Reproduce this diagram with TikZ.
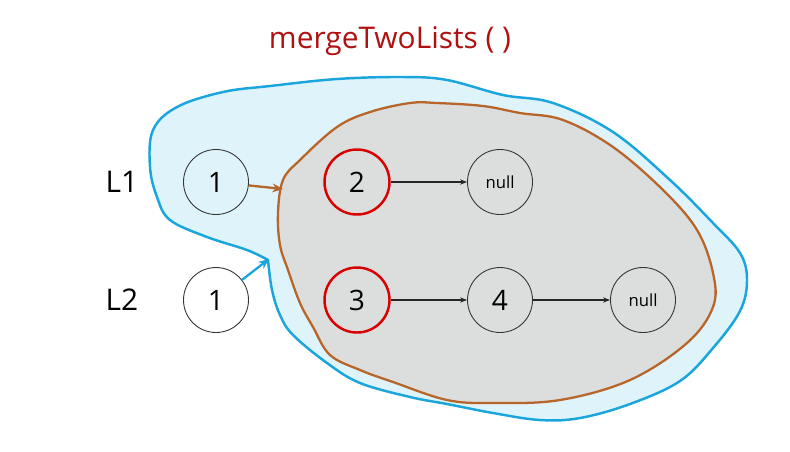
\documentclass[tikz,border=0pt]{standalone}
\usepackage{fontspec}
\setmainfont{Open Sans}
\usetikzlibrary{arrows.meta}

\definecolor{outerfill}{HTML}{DFF3FB}
\definecolor{outerline}{HTML}{1AA5DC}
\definecolor{innerfill}{HTML}{DCDEDD}
\definecolor{innerline}{HTML}{B8652A}
\definecolor{titlered}{HTML}{B01010}

\begin{document}
\begin{tikzpicture}[
  x=0.02cm, y=-0.02cm,
  listnode/.style={circle, draw=black!80, line width=0.5pt, minimum size=1.3cm, inner sep=0pt, font=\fontsize{16}{18}\selectfont},
  headnode/.style={listnode, draw=red!85!black, line width=1.4pt},
  nullnode/.style={listnode, font=\fontsize{9.5}{11}\selectfont},
  lbl/.style={font=\fontsize{17}{20}\selectfont},
  nextptr/.style={-{Stealth[length=4pt, width=3pt]}, line width=0.6pt, black!85},
]
\useasboundingbox (0,0) rectangle (790,451);

% ================================================================
% Recursion region (outer = call, inner = sub-call)
% ================================================================
\draw[outerline, fill=outerfill, line width=1.4pt]
  plot[smooth, tension=0.6] coordinates {
    (268,260) (272,290) (280,315) (293,335) (327,363) (360,383)
    (410,397) (447,404) (493,413) (540,420) (580,418) (630,404)
    (680,381) (713,348) (740,311) (747,280) (740,253) (713,223)
    (670,180) (613,132) (553,103) (503,95) (447,80) (403,77)
    (337,79) (270,86) (223,92) (177,107) (153,130) (150,167)
    (157,197) (170,220) (207,237) (247,250) (268,260)};

\draw[innerline, fill=innerfill, line width=1.3pt]
  plot[smooth cycle, tension=0.6] coordinates {
    (283,180) (300,160) (337,127) (370,112) (410,103) (437,103)
    (483,106) (520,113) (563,120) (613,147) (663,190) (697,230)
    (713,273) (713,307) (687,343) (630,380) (560,400) (493,403)
    (447,400) (393,382) (360,370) (330,355) (313,327) (300,303)
    (288,270) (280,245) (278,213)};

% ================================================================
% Title and list labels
% ================================================================
\node[font=\fontsize{17}{20}\selectfont, text=titlered] (title) at (390,41) {mergeTwoLists ( )};
\node[lbl] (L1) at (122,182) {L1};
\node[lbl] (L2) at (122,300) {L2};

% ================================================================
% List nodes
% ================================================================
\node[listnode] (a1) at (216,182) {1};
\node[listnode, fill=white] (b1) at (216,300) {1};
\node[headnode] (a2) at (357,182) {2};
\node[nullnode] (anull) at (500,182) {null};
\node[headnode] (b3) at (357,300) {3};
\node[listnode] (b4) at (500,300) {4};
\node[nullnode] (bnull) at (643,300) {null};

% --- next pointers ---
\draw[nextptr] (a2) -- (anull);
\draw[nextptr] (b3) -- (b4);
\draw[nextptr] (b4) -- (bnull);

% --- links into the recursive calls ---
\coordinate (innerhit) at (283,189);
\coordinate (outerhit) at (269,259);
\draw[innerline, line width=1.3pt, -{Stealth[length=6pt, width=5pt]}] (a1) -- (innerhit);
\draw[outerline, line width=1.3pt, -{Stealth[length=6pt, width=5pt]}] (b1) -- (outerhit);

\end{tikzpicture}
\end{document}
